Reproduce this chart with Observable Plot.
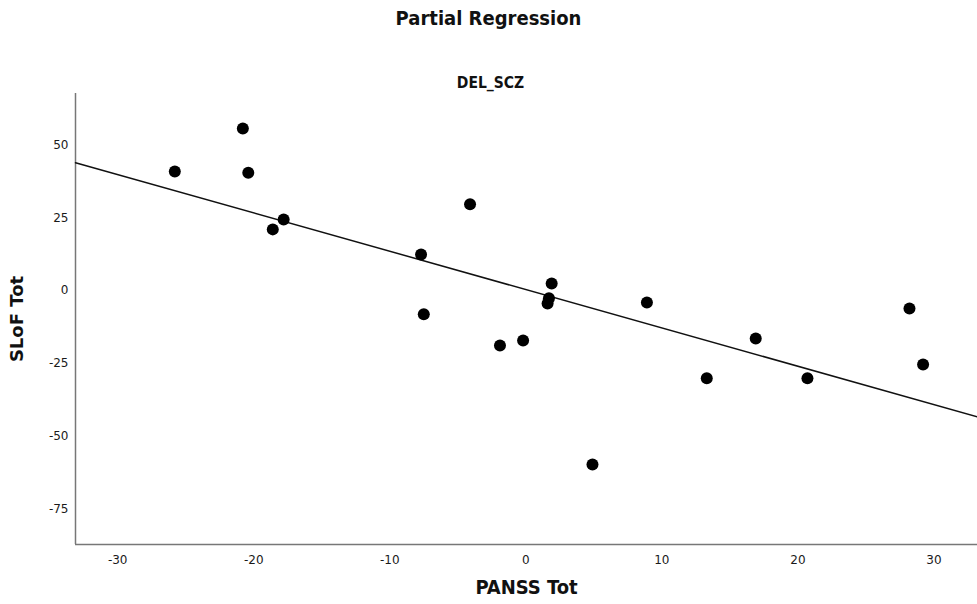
<!DOCTYPE html>
<html>
<head>
<meta charset="utf-8">
<script src="https://cdn.jsdelivr.net/npm/d3@7"></script>
<script src="https://cdn.jsdelivr.net/npm/@observablehq/plot@0.6"></script>
<style>
  html, body { margin: 0; padding: 0; background: #fff; }
  body { width: 977px; height: 604px; overflow: hidden; position: relative; }
  .ttl { position: absolute; left: 0; width: 977px; text-align: center;
         font-family: "Liberation Sans Narrow", "DejaVu Sans Condensed", "Open Sans", sans-serif;
         font-weight: bold; color: #111; }
  #title { top: 6px; font-size: 20px; line-height: 24px; }
  #subtitle { top: 74px; font-size: 15.5px; line-height: 18px; left: 2px; }
  #chart { position: absolute; left: 0; top: 0; }
</style>
</head>
<body>
<div id="chart"></div>
<div id="title" class="ttl">Partial Regression</div>
<div id="subtitle" class="ttl">DEL_SCZ</div>
<script>
// Residualised PANSS Tot (x) and SLoF Tot (y)
const pansTot = [-25.8, -20.8, -20.4, -18.6, -17.8, -7.7, -7.5, -4.1, -1.9, -0.2,
                 1.9, 1.7, 1.6, 4.9, 8.9, 13.3, 16.9, 20.7, 28.2, 29.2];
const slofTot = [40.9, 55.7, 40.5, 21.0, 24.4, 12.4, -8.2, 29.6, -18.9, -17.2,
                 2.4, -2.7, -4.5, -59.8, -4.1, -30.2, -16.5, -30.2, -6.2, -25.4];
const xTicks = [-30, -20, -10, 0, 10, 20, 30];
const yTicks = [-75, -50, -25, 0, 25, 50];
const xDomain = [-33.1, 33.2];
const yDomain = [-87.3, 67.7];
const xLabel = "PANSS Tot";
const yLabel = "SLoF Tot";

const points = pansTot.map((x, i) => ({x, y: slofTot[i]}));

// least-squares fit line through the data, drawn across the full x range
const mx = d3.mean(pansTot), my = d3.mean(slofTot);
const slope = d3.sum(pansTot, (x, i) => (x - mx) * (slofTot[i] - my)) /
              d3.sum(pansTot, x => (x - mx) ** 2);
const intercept = my - slope * mx;
const fit = xDomain.map(x => ({x, y: intercept + slope * x}));

const fmt = d => String(d);

const chart = Plot.plot({
  width: 977,
  height: 604,
  marginTop: 93,
  marginBottom: 60,
  marginLeft: 75,
  marginRight: 0,
  style: {fontFamily: "DejaVu Sans, sans-serif", fontSize: "12px", color: "#1a1a1a", background: "#fff"},
  x: {domain: xDomain, ticks: xTicks, tickFormat: fmt, tickSize: 0, tickPadding: 11, label: null},
  y: {domain: yDomain, ticks: yTicks, tickFormat: fmt, tickSize: 0, tickPadding: 7, label: null},
  marks: [
    Plot.ruleX([xDomain[0]], {stroke: "#777", strokeWidth: 1.5}),
    Plot.ruleY([yDomain[0]], {stroke: "#777", strokeWidth: 1.5}),
    Plot.line(fit, {x: "x", y: "y", stroke: "#111", strokeWidth: 1.5}),
    Plot.dot(points, {x: "x", y: "y", r: 6, fill: "#000", stroke: "none"}),
    Plot.text([xLabel], {frameAnchor: "bottom", dy: 49, fontSize: 20, fontWeight: "bold",
      fontFamily: "Liberation Sans Narrow, DejaVu Sans Condensed, sans-serif", fill: "#111"}),
    Plot.text([yLabel], {frameAnchor: "left", textAnchor: "middle", lineAnchor: "middle",
      dx: -58, rotate: -90, fontSize: 18, fontWeight: "bold",
      fontFamily: "DejaVu Sans, sans-serif", fill: "#111"})
  ]
});
document.getElementById("chart").appendChild(chart);
</script>
</body>
</html>
